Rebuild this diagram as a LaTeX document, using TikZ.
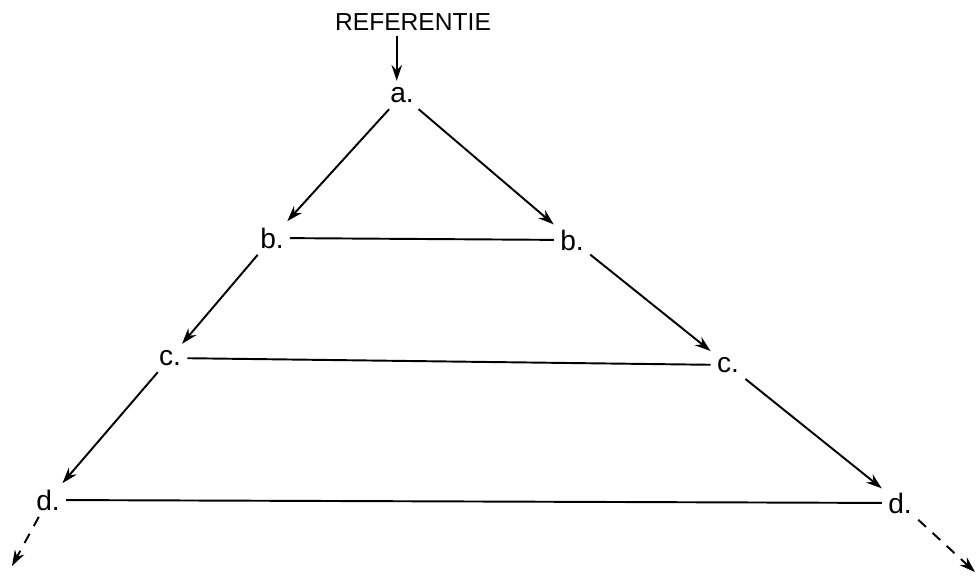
\documentclass[tikz,border=0pt]{standalone}
\usepackage{fontspec}
\setmainfont{Liberation Sans}
\usetikzlibrary{arrows.meta}
\begin{document}
\begin{tikzpicture}[
 step letter/.style={font=\fontsize{16}{18}\selectfont,inner sep=3.5pt},
 title/.style={font=\fontsize{14}{16}\selectfont,inner sep=3pt},
 rung/.style={line width=1.1pt},
 flow/.style={-{Stealth[length=9pt,width=6pt]},line width=1.1pt},
 further/.style={flow,dash pattern=on 6pt off 5pt}]
\useasboundingbox (0,0) rectangle (19.54,11.54);
\node[title] (ref) at (8.26,11.10) {REFERENTIE};
\node[step letter] (a) at (8.04,9.64) {a.};
\node[step letter] (bl) at (5.44,6.78) {b.};
\node[step letter] (br) at (11.44,6.74) {b.};
\node[step letter] (cl) at (3.40,4.38) {c.};
\node[step letter] (cr) at (14.56,4.24) {c.};
\node[step letter] (dl) at (0.96,1.54) {d.};
\node[step letter] (dr) at (18.00,1.48) {d.};
\coordinate (dlend) at (0.24,0.22);
\coordinate (drend) at (19.50,0.10);
\draw[flow] ([xshift=-3pt]ref.south -| a.north) -- ([xshift=-3pt]a.north);
\draw[flow] (a) -- (bl);
\draw[flow] (a) -- (br);
\draw[flow] (bl) -- (cl);
\draw[flow] (br) -- (cr);
\draw[flow] (cl) -- (dl);
\draw[flow] (cr) -- (dr);
\draw[rung] (bl) -- (br);
\draw[rung] (cl) -- (cr);
\draw[rung] (dl) -- (dr);
\draw[further] (dl) -- (dlend);
\draw[further] (dr) -- (drend);
\end{tikzpicture}
\end{document}
